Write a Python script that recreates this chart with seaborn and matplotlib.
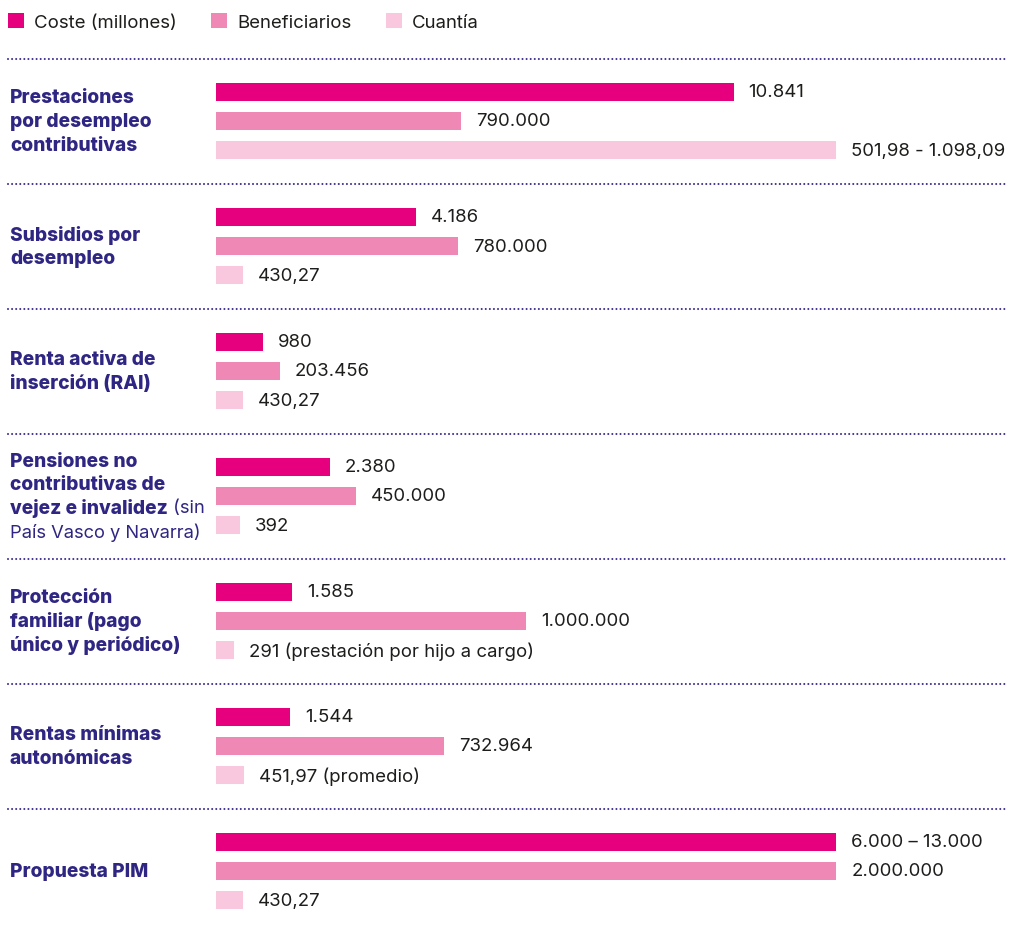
import numpy as np
import pandas as pd
import matplotlib
matplotlib.use("Agg")
import matplotlib.pyplot as plt
import seaborn as sns
from matplotlib.transforms import blended_transform_factory

# ---------------- data ----------------
grupos = [
    "Prestaciones por desempleo contributivas",
    "Subsidios por desempleo",
    "Renta activa de inserción (RAI)",
    "Pensiones no contributivas de vejez e invalidez",
    "Protección familiar",
    "Rentas mínimas autonómicas",
    "Propuesta PIM",
]
series = ["Coste (millones)", "Beneficiarios", "Cuantía"]

coste = [10841, 4186, 980, 2380, 1585, 1544, 13000]
beneficiarios = [790000, 780000, 203456, 450000, 1000000, 732964, 2000000]
cuantia = [10250, 430.27, 430.27, 392, 291, 451.97, 430.27]  # bar lengths as drawn

etiquetas_coste = ["10.841", "4.186", "980", "2.380", "1.585", "1.544", "6.000 – 13.000"]
etiquetas_benef = ["790.000", "780.000", "203.456", "450.000", "1.000.000", "732.964", "2.000.000"]
etiquetas_cuantia = ["501,98 - 1.098,09", "430,27", "430,27", "392",
                     "291 (prestación por hijo a cargo)", "451,97 (promedio)", "430,27"]

rotulos = [
    [[("Prestaciones", True)], [("por desempleo", True)], [("contributivas", True)]],
    [[("Subsidios por", True)], [("desempleo", True)]],
    [[("Renta activa de", True)], [("inserción (RAI)", True)]],
    [[("Pensiones no", True)], [("contributivas de", True)],
     [("vejez e invalidez", True), (" (sin", False)], [("País Vasco y Navarra)", False)]],
    [[("Protección", True)], [("familiar (pago", True)], [("único y periódico)", True)]],
    [[("Rentas mínimas", True)], [("autonómicas", True)]],
    [[("Propuesta PIM", True)]],
]

colores = ["#e6007e", "#ef88b4", "#f9c8de"]
color_rotulo = "#2e2682"
color_linea = "#3a2e8f"
color_texto = "#1d1d1b"

# ---------------- frame ----------------
filas = []
for s, vals in zip(series, [coste, beneficiarios, cuantia]):
    m = max(vals)
    for g, v in zip(grupos, vals):
        filas.append({"grupo": g, "serie": s, "valor": v / m})
df = pd.DataFrame(filas)

sns.set_theme(style="white")
plt.rcParams["font.family"] = ["Inter", "DejaVu Sans"]

W, H = 1012, 929
fig = plt.figure(figsize=(W / 100, H / 100), dpi=100)
ax = fig.add_axes([216.5 / W, 0, (W - 216.5) / W, (H - 59.5) / H])

sns.barplot(data=df, x="valor", y="grupo", hue="serie", orient="h",
            order=grupos, hue_order=series, palette=colores, saturation=1,
            width=0.703, gap=0.386, dodge=True, errorbar=None,
            linewidth=0, ax=ax)

ax.set_xlim(0, (W - 216.5) / 620)
ax.set_ylim((H - 59.5) / 125 - 0.5, -0.5)
ax.set_axis_off()
leg = ax.get_legend()
handles, labels = ax.get_legend_handles_labels()
if leg is not None:
    leg.remove()

for cont, labs in zip(ax.containers, [etiquetas_coste, etiquetas_benef, etiquetas_cuantia]):
    ax.bar_label(cont, labels=labs, padding=10.8, fontsize=13.4, color=color_texto)

# separators
blend = blended_transform_factory(fig.transFigure, ax.transData)
for k in range(len(grupos)):
    ax.plot([8 / W, 1008 / W], [k - 0.5, k - 0.5], transform=blend, clip_on=False,
            color=color_linea, lw=1.5, linestyle=(0, (0.01, 1.95)),
            dash_capstyle="round")

# group labels
paso = 23.6
for i, lineas in enumerate(rotulos):
    n = len(lineas)
    for j, segs in enumerate(lineas):
        dy = -((j - (n - 1) / 2) * paso)
        prev = None
        for txt, bold in segs:
            kw = dict(fontsize=13.8 if bold else 13.2, color=color_rotulo,
                      va="center", ha="left",
                      fontweight="heavy" if bold else "normal", annotation_clip=False)
            if prev is None:
                prev = ax.annotate(txt, xy=(10 / W, i), xycoords=blend,
                                   xytext=(0, dy), textcoords="offset pixels", **kw)
            else:
                prev = ax.annotate(txt, xy=(1, 0.5), xycoords=prev, **kw)

# legend
fig.legend(handles, labels, loc="upper left", bbox_to_anchor=(8 / W, 1 - 14 / H),
           ncol=3, frameon=False, handlelength=0.85, handleheight=0.85,
           handletextpad=0.55, columnspacing=1.85, borderaxespad=0, borderpad=0,
           fontsize=13.4, labelcolor=color_texto)

fig.savefig("out.png", dpi=100)
